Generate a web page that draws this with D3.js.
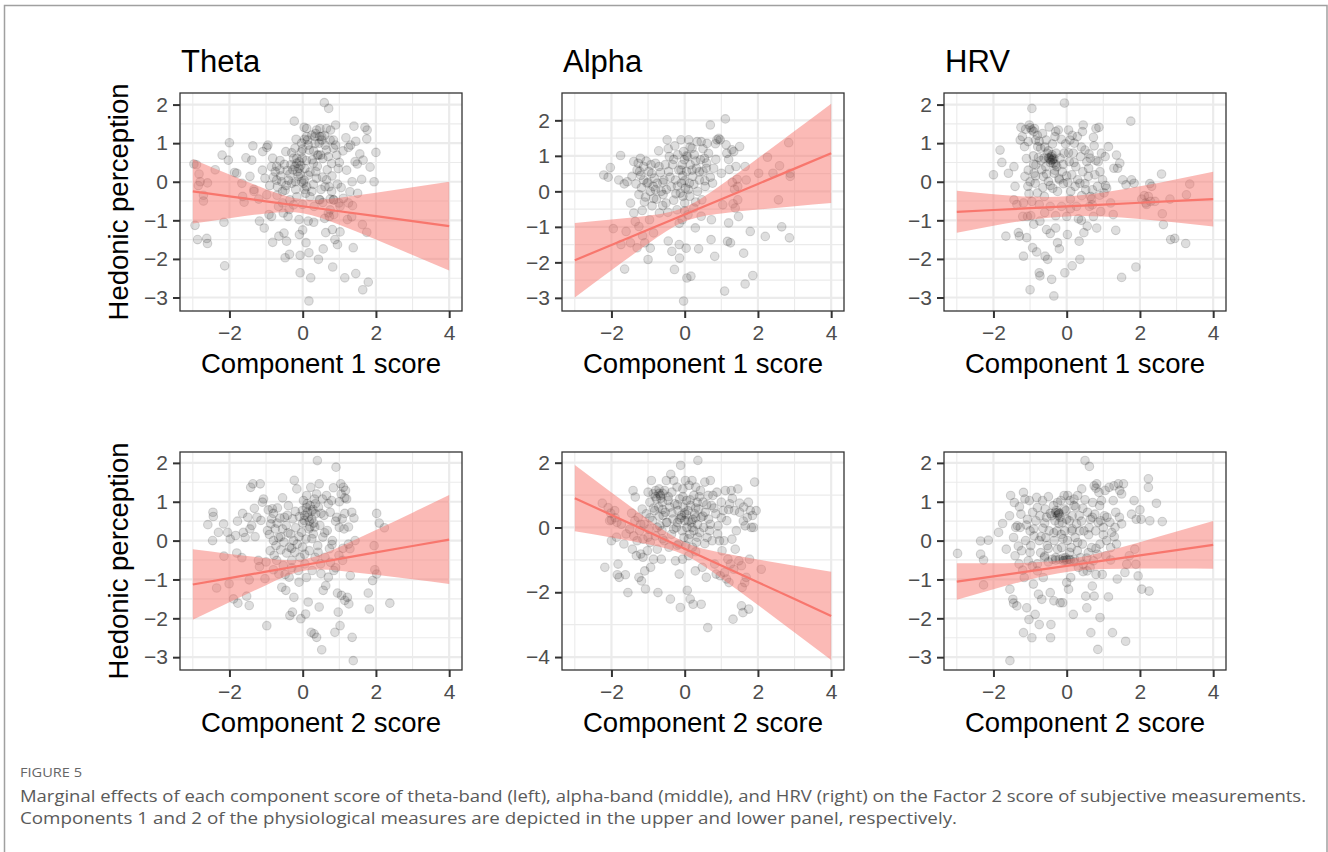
<!DOCTYPE html>
<html>
<head>
<meta charset="utf-8">
<script src="https://cdn.jsdelivr.net/npm/d3@7"></script>
<style>
  body { margin: 0; background: #fff; }
  svg { display: block; }
</style>
</head>
<body>
<div id="viz"></div>
<script>
// ---- data ----
const thetaC1 = [[-2.97,0.46],[-2.9,0.44],[-2.83,0.2],[-2.85,-0.1],[-2.94,-1.13],[-2.87,-1.5],[-2.62,-1.47],[-2.6,-1.6],[-2.71,-0.35],[-2.71,-0.5],[-2.6,-0.03],[-2.8,0],[-2.39,0.31],[-2.2,0.69],[-2.03,0.56],[-2.0,1.01],[-2.15,-1.05],[-2.13,-2.18],[-1.86,0.24],[-1.8,0.22],[-1.64,-0.38],[-1.6,-0.53],[-1.55,0.62],[-1.39,0.56],[-1.36,0.93],[-1.66,-0.04],[-1.44,0.14],[-1.33,-0.2],[-1.33,-0.25],[-1.18,-1.02],[-1.09,0.78],[-1.05,-1.2],[-1.03,0.09],[-0.98,0.89],[-0.95,0.95],[-0.98,-0.34],[-0.92,-0.85],[-0.85,-0.9],[-0.82,-1.57],[-0.85,0.39],[-0.82,0.61],[-0.8,0.12],[-0.75,0.26],[-0.71,0.4],[-0.69,-0.13],[-0.66,-0.64],[-0.65,-1.41],[-0.62,0.55],[-0.57,0],[-0.55,-0.25],[-0.53,-0.81],[-0.51,-1.33],[-0.48,-1.97],[-0.46,0.78],[-0.44,-1.54],[-0.42,0.29],[-0.39,0.04],[-0.37,-0.72],[-0.36,-1.88],[-0.35,-0.47],[-0.32,0.44],[-0.3,-0.04],[-0.27,0.31],[-0.25,0.61],[-0.23,1.57],[-0.21,0.87],[-0.19,-0.2],[-0.18,1.1],[-0.16,0.48],[-0.15,0.26],[-0.12,0.14],[-0.1,-0.98],[-0.09,-1.37],[-0.07,-1.91],[-0.07,-2.36],[-0.05,0.42],[-0.04,0.77],[-0.03,0],[-0.01,0.61],[0,-0.59],[0.02,-0.04],[0.04,1.41],[0.05,1.1],[0.06,0.34],[0.08,-0.3],[0.09,-1.58],[0.11,1.38],[0.13,1.08],[0.15,0.17],[0.15,-1.02],[0.17,-1.84],[0.18,0.82],[0.2,-0.39],[0.22,-2.49],[0.25,1.21],[0.26,0.57],[0.29,-0.07],[0.31,-0.64],[0.34,0.99],[0.36,0.26],[0.38,1.34],[0.4,0.69],[0.43,-2.01],[0.45,-0.46],[0.47,1.17],[0.47,1.38],[0.49,0.69],[0.52,1.08],[0.54,0.12],[0.55,-0.54],[0.56,-1.74],[0.59,2.05],[0.61,0.95],[0.63,-1.32],[0.65,1.38],[0.67,0.31],[0.7,-0.81],[0.71,1.9],[0.72,-0.13],[0.73,-0.9],[0.75,1.08],[0.76,1.34],[0.79,0.47],[0.81,-1.24],[0.82,-2.21],[0.84,0.87],[0.85,-0.47],[0.88,-1.5],[0.9,1.47],[0.93,0.69],[0.95,-0.06],[0.95,-1.63],[0.97,0.34],[0.99,-0.55],[1.02,-1.3],[1.11,-0.43],[1.15,-2.49],[1.18,1.14],[1.22,-0.98],[1.25,0.89],[1.29,-0.26],[1.31,0.95],[1.34,-0.91],[1.35,0],[1.36,-0.62],[1.38,-1.71],[1.4,1.44],[1.43,0.52],[1.45,1.05],[1.45,-2.38],[1.49,0.46],[1.56,0.72],[1.61,0.06],[1.63,-1.11],[1.64,-2.8],[1.65,0.56],[1.7,1.41],[1.75,-1.31],[1.75,1.11],[1.76,1.34],[1.79,-2.6],[1.84,0.38],[1.95,0],[2.0,0.76],[-0.16,0.61],[-0.09,0.52],[-0.21,0.39],[-0.35,0.2],[-0.07,0.2],[0.04,0.04],[0.29,0.48],[0.43,0.69],[0.52,1.17],[0.34,1.17],[0.11,1.17],[-0.03,1.0],[0.38,0.09],[0.65,0.82],[0.84,1.08],[-0.62,0.31],[-0.71,0.04],[-0.48,-0.22],[-0.16,-0.39],[0.11,-0.13],[0.61,-0.13],[0.79,-0.25],[0.84,-0.47],[0.75,-0.73],[0.47,-0.47],[1.02,-0.64],[1.25,-0.55],[0.17,-3.09],[-0.6,0.15],[-0.5,0.45],[-0.45,-0.1],[-0.3,0.75],[-0.2,0.0],[-0.1,0.35],[0.0,0.85],[0.05,-0.2],[0.1,0.55],[0.15,0.95],[0.2,0.25],[0.25,-0.25],[0.3,0.8],[0.35,1.25],[0.4,0.4],[0.45,1.0],[0.5,-0.2],[0.55,0.6],[0.6,1.2],[0.65,0.05],[0.7,0.65],[0.75,-0.45],[0.8,0.15],[0.85,-0.85],[0.9,0.95],[1.0,0.5],[1.05,-0.15],[1.1,0.8],[-0.7,-0.35],[-0.55,-0.55],[-0.9,-0.1],[-1.1,0.3],[-0.4,-0.9],[0.0,-1.25],[0.3,-1.05],[0.6,-0.95],[-0.25,-0.6],[1.2,0.3],[1.5,-0.3],[-1.2,-0.45]];

const alphaC1 = [[-2.21,0.46],[-2.09,0.4],[-2.03,0.67],[-1.95,-1.05],[-1.75,1.01],[-1.8,0.32],[-1.65,0.21],[-1.6,-1.13],[-1.64,-2.19],[-1.57,0.27],[-1.74,-1.5],[-1.48,-0.33],[-1.44,0.42],[-1.39,0.84],[-1.35,-0.85],[-1.33,0.21],[-1.3,-1.59],[-1.27,0.79],[-1.25,-0.09],[-1.23,0.56],[-1.21,0.93],[-1.18,0.1],[-1.16,-0.54],[-1.15,-1.25],[-1.12,0.7],[-1.12,0.32],[-1.09,-1.45],[-1.07,-0.16],[-1.03,0.23],[-1.0,-1.92],[-0.98,0.56],[-0.96,-0.8],[-0.94,0],[-0.92,0.75],[-0.89,-0.41],[-0.86,0.14],[-0.85,-1.17],[-0.83,0.37],[-0.8,0.79],[-0.77,-0.22],[-0.75,0.23],[-0.71,1.14],[-0.69,-0.61],[-0.66,0.53],[-0.64,0],[-0.59,-0.09],[-0.57,0.32],[-0.53,0.75],[-0.51,-0.33],[-0.48,1.45],[-0.46,-0.59],[-0.45,-1.4],[-0.44,0.56],[-0.42,0.98],[-0.37,0.14],[-0.35,-1.69],[-0.33,0.75],[-0.28,-2.2],[-0.27,1.28],[-0.25,0.32],[-0.24,-0.07],[-0.21,-0.52],[-0.19,1.03],[-0.16,0.6],[-0.15,-1.5],[-0.14,-1.88],[-0.12,-0.05],[-0.1,1.45],[-0.09,0.23],[-0.07,0.75],[-0.07,-0.8],[-0.05,-0.14],[-0.05,0.44],[-0.03,1.12],[-0.03,-3.09],[-0.01,0.89],[0,-0.33],[0.02,0.09],[0.04,-1.6],[0.05,0.56],[0.06,-2.44],[0.08,0.98],[0.09,-0.66],[0.11,1.45],[0.13,0.23],[0.14,-0.14],[0.15,0.75],[0.17,-2.39],[0.2,1.21],[0.22,0.42],[0.25,-0.47],[0.26,1.03],[0.29,-1.03],[0.32,0.65],[0.34,1.4],[0.35,0],[0.38,-1.62],[0.4,0.32],[0.43,0.89],[0.45,1.4],[0.47,-0.24],[0.5,0.56],[0.54,0.93],[0.56,0.14],[0.59,0.65],[0.61,1.35],[0.65,1.07],[0.7,1.87],[0.72,-1.36],[0.73,-0.8],[0.76,0.23],[0.79,0.65],[0.82,-1.83],[0.84,1.34],[0.88,1.45],[0.93,1.49],[0.97,1.45],[1.0,0.51],[1.04,-0.38],[1.09,-2.81],[1.11,2.04],[1.13,1.31],[1.15,1.07],[1.17,-1.41],[1.2,-0.89],[1.22,0.62],[1.25,-1.45],[1.29,1.17],[1.32,-0.35],[1.34,1.12],[1.36,0.06],[1.38,-0.47],[1.4,0.7],[1.43,0.34],[1.45,-0.24],[1.45,0.14],[1.47,-0.71],[1.5,1.26],[1.61,-1.74],[1.65,0.7],[1.68,0.32],[1.65,-2.61],[1.79,-1.13],[1.86,-2.37],[2.02,0.51],[2.2,-1.27],[2.26,0.96],[2.41,0.51],[2.56,-0.24],[2.59,0.72],[2.65,-1.0],[2.84,1.37],[2.86,-1.31],[2.88,0.51],[2.88,0.42],[-0.94,-1.6],[-1.39,-0.61],[-1.48,-1.45],[-1.25,-0.99],[-1.2,0.45],[-1.0,0.25],[-0.9,0.5],[-0.8,0.05],[-0.7,0.7],[-0.6,0.25],[-0.5,0.05],[-0.4,0.4],[-0.3,0.9],[-0.2,0.15],[-0.1,0.6],[0.0,0.3],[0.05,1.0],[0.1,0.05],[0.2,0.6],[0.25,0.2],[0.3,0.85],[0.4,0.55],[0.5,1.2],[0.55,0.3],[0.6,0.8],[0.7,0.4],[-1.1,-0.3],[-0.85,-0.2],[-0.6,-0.4],[-0.3,-0.25],[0.0,-0.55],[0.3,-0.3],[-0.45,1.2],[0.15,1.25],[-1.3,0.6],[-1.05,0.85],[0.85,0.9],[1.2,0.9],[1.3,0.25],[-0.15,-0.9],[0.45,-0.7]];

const hrvC1 = [[-2.0,0.18],[-1.82,0.82],[-1.77,0.5],[-1.66,-1.41],[-1.59,0.22],[-1.44,-0.47],[-1.44,0.39],[-1.41,-0.12],[-1.36,-0.59],[-1.32,-1.32],[-1.29,-1.41],[-1.27,1.08],[-1.25,1.41],[-1.21,1.17],[-1.18,-0.55],[-1.18,-1.93],[-1.15,0.91],[-1.14,0.14],[-1.12,1.36],[-1.09,-1.45],[-1.07,-0.9],[-1.06,-0.12],[-1.05,1.04],[-1.03,-0.31],[-1.02,1.47],[-1.0,-2.8],[-0.98,-0.88],[-0.95,-0.51],[-0.95,1.9],[-0.95,1.34],[-0.93,-1.71],[-0.91,0.67],[-0.89,0.22],[-0.88,1.38],[-0.86,-0.04],[-0.85,1.08],[-0.84,0.44],[-0.82,-1.82],[-0.8,-0.29],[-0.79,0.91],[-0.77,0.63],[-0.75,-0.59],[-0.75,-2.36],[-0.73,-1.02],[-0.73,-2.44],[-0.71,0.87],[-0.68,0.31],[-0.66,1.25],[-0.64,0.14],[-0.62,0.61],[-0.61,-0.38],[-0.59,-1.93],[-0.57,0.39],[-0.56,1.08],[-0.55,-1.24],[-0.53,0.74],[-0.52,-2.01],[-0.5,0.01],[-0.48,1.42],[-0.47,0.61],[-0.45,-0.64],[-0.45,-1.34],[-0.44,0.57],[-0.42,0.65],[-0.41,-2.53],[-0.39,0.98],[-0.38,-0.17],[-0.36,0.48],[-0.35,-2.96],[-0.34,0.22],[-0.32,1.17],[-0.3,-0.88],[-0.29,0.74],[-0.27,0.39],[-0.25,-1.58],[-0.25,-0.25],[-0.23,1.34],[-0.21,0.09],[-0.2,-1.74],[-0.18,0.61],[-0.15,1.1],[-0.14,-0.64],[-0.12,0.26],[-0.09,-0.05],[-0.07,0.74],[-0.06,2.04],[-0.05,-2.36],[-0.03,0.98],[0,-0.9],[0.02,-1.37],[0.03,-0.02],[0.05,1.34],[0.07,0.52],[0.09,1.08],[0.11,-0.25],[0.14,0.18],[0.15,-2.18],[0.18,0.74],[0.21,1.0],[0.23,-0.12],[0.25,0.39],[0.27,-0.64],[0.29,1.17],[0.32,-0.96],[0.34,-1.54],[0.36,-2.01],[0.36,-0.04],[0.38,0.65],[0.41,-0.36],[0.43,1.3],[0.44,0.26],[0.45,1.47],[0.47,-1.32],[0.5,0.82],[0.52,-0.21],[0.55,0.52],[0.56,-1.15],[0.59,0.14],[0.61,0.72],[0.62,-0.64],[0.64,0.61],[0.65,-0.38],[0.68,-0.45],[0.7,-0.21],[0.73,1.15],[0.73,-0.9],[0.75,0.93],[0.77,0.18],[0.8,1.38],[0.82,-1.2],[0.84,-0.12],[0.86,0.52],[0.88,1.41],[0.91,0.26],[0.93,-0.77],[0.95,0.74],[0.98,0.05],[1.02,-0.29],[1.05,0.65],[1.06,-0.1],[1.09,-0.17],[1.14,0.91],[1.2,-0.55],[1.27,-0.85],[1.29,0.35],[1.34,-1.26],[1.36,0.69],[1.39,0.35],[1.45,0.48],[1.5,-2.48],[1.53,0.05],[1.62,-0.08],[1.75,1.57],[1.77,0.05],[1.84,-0.04],[1.89,-2.21],[2.05,-0.45],[2.12,-0.36],[2.16,-0.55],[2.18,-0.59],[2.23,-0.38],[2.27,-0.05],[2.29,-0.51],[2.32,-0.12],[2.41,-0.51],[2.59,0.2],[2.61,-0.83],[2.64,-1.11],[2.82,-0.45],[2.84,-1.5],[2.95,-1.47],[3.27,-0.34],[3.25,-1.6],[3.36,-0.06],[-0.4,0.55],[-0.35,0.6],[-0.45,0.5],[-0.3,0.45],[-0.5,0.62],[-1.0,1.4],[-0.9,1.3],[-1.1,0.6],[-1.0,0.0],[-0.9,0.45],[-0.85,0.15],[-0.8,1.2],[-0.7,0.55],[-0.65,-0.15],[-0.6,0.9],[-0.55,0.2],[-0.5,0.8],[-0.45,-0.1],[-0.4,0.7],[-0.38,0.58],[-0.33,0.3],[-0.3,1.3],[-0.2,0.05],[-0.1,0.45],[0.0,0.15],[0.05,0.75],[0.1,-0.45],[0.2,0.5],[0.3,0.05],[0.4,0.9],[0.5,-0.05],[0.6,0.35],[0.7,-0.6],[0.8,0.55],[0.9,-0.35],[-1.2,-0.9],[-0.9,-1.1],[-0.6,-0.8],[-0.3,-1.2],[0.1,-0.7],[0.4,-1.0],[-1.05,0.3],[-0.75,1.05],[0.15,1.2]];

const thetaC2 = [[-2.59,0.41],[-2.45,0.73],[-2.44,0.62],[-2.46,0.0],[-2.35,-1.22],[-2.3,0.21],[-2.16,0.43],[-2.15,-0.4],[-2.05,0.21],[-2.01,-1.11],[-1.98,0.04],[-1.89,-1.5],[-1.83,0.13],[-1.8,-0.32],[-1.77,-1.61],[-1.78,0.5],[-1.66,-0.44],[-1.64,0.7],[-1.62,0.21],[-1.57,0.08],[-1.53,-1.43],[-1.46,-1.67],[-1.46,-1.01],[-1.44,0.3],[-1.42,1.37],[-1.39,0.39],[-1.36,1.46],[-1.32,0.83],[-1.25,0.6],[-1.21,-0.51],[-1.18,-0.67],[-1.16,1.46],[-1.14,0.52],[-1.1,0.99],[-1.07,1.07],[-1.03,-0.98],[-0.98,-2.19],[-0.96,0.26],[-0.94,0.79],[-0.91,0.16],[-0.89,-0.26],[-0.87,0.43],[-0.85,0.56],[-0.83,0.82],[-0.8,0.7],[-0.78,-0.38],[-0.75,0.3],[-0.73,-0.13],[-0.71,-0.51],[-0.69,0.84],[-0.66,0.08],[-0.65,-0.86],[-0.62,0.58],[-0.6,-0.24],[-0.57,-1.2],[-0.55,0.3],[-0.53,-0.64],[-0.51,-0.04],[-0.48,-0.87],[-0.46,-1.28],[-0.45,0.39],[-0.44,-0.32],[-0.42,0.65],[-0.39,0.9],[-0.37,-0.94],[-0.36,-0.17],[-0.35,-1.93],[-0.33,0.17],[-0.3,-0.51],[-0.28,-1.84],[-0.27,0.56],[-0.25,0.0],[-0.24,-1.46],[-0.23,1.55],[-0.21,-0.3],[-0.19,0.33],[-0.16,1.33],[-0.15,-0.09],[-0.12,-0.77],[-0.1,-1.07],[-0.09,0.62],[-0.07,-0.43],[-0.05,-2.01],[-0.03,0.21],[-0.01,0.77],[0,-0.17],[0.02,1.03],[0.04,0.52],[0.06,-0.6],[0.08,-1.89],[0.09,0.04],[0.11,1.16],[0.13,0.73],[0.15,-1.58],[0.17,0.3],[0.18,-0.26],[0.2,0.9],[0.22,1.37],[0.23,-2.36],[0.25,0.56],[0.26,-0.77],[0.29,0.17],[0.31,-2.4],[0.32,1.07],[0.34,-0.43],[0.35,0.69],[0.38,-2.49],[0.4,2.06],[0.41,-0.13],[0.43,0.86],[0.45,1.46],[0.45,-1.71],[0.47,0.39],[0.49,-0.6],[0.52,-2.81],[0.54,1.07],[0.55,0.09],[0.56,-1.28],[0.58,0.65],[0.61,-0.43],[0.63,-1.16],[0.65,1.16],[0.67,0.26],[0.7,-0.94],[0.73,-0.21],[0.75,0.73],[0.76,-0.56],[0.79,1.03],[0.81,0.0],[0.84,1.36],[0.85,-0.77],[0.88,-2.36],[0.91,1.89],[0.93,0.6],[0.95,-1.35],[0.97,-1.84],[0.99,-0.38],[1.0,0.34],[1.02,-2.19],[1.04,1.46],[1.06,-1.41],[1.08,0.56],[1.09,-0.51],[1.11,1.37],[1.13,0.3],[1.15,-1.54],[1.17,1.29],[1.2,1.07],[1.22,-1.46],[1.25,-0.09],[1.26,-1.63],[1.29,-0.21],[1.34,0.73],[1.35,-2.49],[1.38,-3.09],[1.4,0.58],[1.43,0.0],[1.79,-1.35],[1.82,-1.76],[1.91,-1.03],[1.95,-0.13],[1.97,-0.75],[2.02,-0.86],[2.02,0.7],[2.09,0.45],[2.23,0.33],[2.38,-1.61],[0.15,0.6],[0.25,0.75],[0.3,0.45],[0.1,0.85],[0.35,0.95],[0.2,0.35],[0.05,0.65],[1.05,1.2],[1.15,1.1],[-0.8,0.0],[-0.7,0.45],[-0.6,0.1],[-0.5,0.6],[-0.4,0.2],[-0.3,-0.2],[-0.2,0.75],[-0.1,0.1],[0.0,0.45],[0.05,-0.35],[0.12,0.95],[0.18,0.5],[0.25,0.05],[0.28,0.8],[0.33,0.35],[0.38,1.2],[0.42,-0.3],[0.5,0.7],[0.6,0.2],[0.7,0.95],[0.8,-0.1],[0.9,0.5],[1.0,1.0],[1.1,-0.2],[1.15,0.7],[1.25,0.35],[-1.0,-0.55],[-0.8,-0.75],[-0.3,-0.7],[0.1,-0.95],[0.5,-0.85],[0.9,-0.7],[-1.3,0.1],[-1.5,0.6],[1.3,-0.9],[-0.55,1.1]];

const alphaC2 = [[-2.25,0.75],[-2.18,-1.23],[-2.09,0.61],[-2.05,0.21],[-2.02,0.44],[-2.0,-0.41],[-2.0,0.23],[-1.91,0.52],[-1.86,-0.3],[-1.85,0.16],[-1.82,-1.13],[-1.84,-1.46],[-1.79,-1.54],[-1.73,0.1],[-1.62,-1.46],[-1.66,-0.51],[-1.55,-2.01],[-1.5,-0.05],[-1.45,0.44],[-1.43,-0.67],[-1.41,1.14],[-1.39,-0.26],[-1.36,0.21],[-1.35,0.94],[-1.32,-0.87],[-1.3,-0.41],[-1.27,0.31],[-1.25,-1.54],[-1.23,-0.1],[-1.2,-0.82],[-1.18,-1.65],[-1.16,0.57],[-1.14,-0.36],[-1.14,-0.92],[-1.11,0.1],[-1.09,-1.34],[-1.07,-1.9],[-1.05,0.42],[-1.02,-0.72],[-1.0,1.09],[-0.98,-0.05],[-0.95,0.78],[-0.94,-0.46],[-0.93,-1.23],[-0.91,1.45],[-0.88,0.21],[-0.86,1.04],[-0.85,-0.98],[-0.82,0.52],[-0.8,-0.26],[-0.79,1.14],[-0.77,0.88],[-0.75,-0.67],[-0.73,-2.01],[-0.71,0.63],[-0.7,1.19],[-0.68,0.05],[-0.66,0.99],[-0.64,-0.98],[-0.62,-0.1],[-0.61,0.78],[-0.59,0.37],[-0.56,-0.41],[-0.55,1.14],[-0.53,0.47],[-0.5,1.45],[-0.48,0.16],[-0.45,0.83],[-0.43,-0.61],[-0.41,0.63],[-0.39,-2.21],[-0.38,1.64],[-0.36,-0.21],[-0.35,1.09],[-0.32,0.26],[-0.3,1.45],[-0.27,0.73],[-0.25,-1.03],[-0.23,0],[-0.21,1.25],[-0.18,0.52],[-0.16,-0.51],[-0.15,-1.44],[-0.14,0.88],[-0.12,-2.47],[-0.11,1.92],[-0.09,0.37],[-0.07,-0.1],[-0.06,-0.98],[-0.05,1.19],[-0.03,0.63],[-0.02,-0.31],[0,0.21],[0.02,1.45],[0.03,-0.56],[0.05,0.83],[0.06,0],[0.07,-1.94],[0.09,0.52],[0.11,-0.87],[0.12,1.3],[0.14,-0.21],[0.15,-2.21],[0.16,0.68],[0.18,0.16],[0.2,1.45],[0.21,-0.61],[0.23,-2.37],[0.25,0.99],[0.25,-0.1],[0.27,0.42],[0.29,-1.34],[0.3,1.25],[0.32,-0.46],[0.34,0.78],[0.35,0.1],[0.36,2.07],[0.38,0.57],[0.41,-0.16],[0.43,1.14],[0.45,-2.37],[0.45,0.31],[0.48,-1.23],[0.5,0.78],[0.52,0],[0.55,1.4],[0.56,0.47],[0.59,-1.54],[0.61,-0.31],[0.63,-3.09],[0.64,0.99],[0.65,0.26],[0.68,-0.1],[0.7,1.45],[0.73,0.68],[0.75,-0.41],[0.77,0.99],[0.82,-1.13],[0.85,0.42],[0.86,-1.44],[0.88,1.09],[0.91,0.05],[0.95,-0.41],[0.97,-1.49],[1.0,0.78],[1.02,-0.72],[1.05,0.52],[1.07,-0.41],[1.09,-1.39],[1.11,1.14],[1.14,-1.59],[1.15,0.21],[1.18,-0.98],[1.21,-1.7],[1.23,0.73],[1.25,-1.13],[1.27,1.14],[1.29,-0.36],[1.32,-2.83],[1.34,-1.29],[1.36,0.52],[1.38,-0.67],[1.41,-0.1],[1.45,1.19],[1.48,-1.03],[1.5,0.47],[1.55,-2.42],[1.55,-1.18],[1.57,-1.85],[1.59,-2.63],[1.61,0.63],[1.64,-1.7],[1.65,0.05],[1.68,-1.54],[1.71,0.31],[1.74,0.78],[1.75,-2.52],[1.77,-0.98],[1.79,0.52],[1.82,0],[1.85,0.37],[1.88,0],[1.91,1.4],[1.95,0.52],[2.09,-1.29],[-0.1,0.3],[0.0,0.45],[0.1,0.2],[0.2,0.0],[-0.2,0.15],[0.3,0.3],[-0.6,1.05],[-0.65,0.9],[-0.95,0.3],[-0.85,0.6],[-0.75,0.0],[-0.7,0.35],[-0.6,0.55],[-0.5,0.15],[-0.45,0.95],[-0.35,0.45],[-0.3,-0.05],[-0.2,0.7],[-0.15,0.25],[-0.05,0.95],[0.05,0.4],[0.1,-0.35],[0.15,0.85],[0.22,0.25],[0.3,0.6],[0.35,-0.3],[0.4,0.95],[0.5,0.35],[0.6,0.7],[0.7,0.1],[0.8,0.6],[0.9,-0.2],[1.0,0.3],[1.2,0.55],[1.3,0.9],[1.5,0.75],[1.6,0.2],[-1.2,0.1],[-1.0,-0.3],[-0.6,-0.35],[-0.2,-0.55],[0.3,-0.75],[0.55,-0.5],[-0.8,0.95],[-0.7,1.05],[-1.6,-0.2],[-1.9,0.3]];

const hrvC2 = [[-2.98,-0.33],[-2.35,-0.01],[-2.35,-0.35],[-2.27,-0.5],[-2.27,-1.14],[-2.14,0.01],[-1.86,0.21],[-1.75,0.44],[-1.65,-0.22],[-1.56,0.64],[-1.55,-1.25],[-1.53,1.16],[-1.47,-1.51],[-1.45,-1.61],[-1.45,0.08],[-1.43,0.98],[-1.41,-0.39],[-1.39,0.34],[-1.36,-1.68],[-1.35,0.38],[-1.32,-0.14],[-1.29,0.87],[-1.27,0.34],[-1.25,0.68],[-1.23,-0.26],[-1.2,-0.76],[-1.18,-2.37],[-1.18,1.24],[-1.16,-0.95],[-1.14,1.07],[-1.12,0],[-1.09,-1.73],[-1.07,0.55],[-1.05,-0.52],[-1.03,-2.03],[-1.02,1.03],[-1.0,0.25],[-0.98,-0.13],[-0.95,-2.5],[-0.94,-0.65],[-0.93,0.73],[-0.91,-1.12],[-0.89,0.12],[-0.86,-1.9],[-0.84,0.51],[-0.82,1.11],[-0.8,-0.78],[-0.77,-1.38],[-0.75,0],[-0.75,-2.16],[-0.73,0.64],[-0.71,-0.31],[-0.68,-1.51],[-0.66,1.03],[-0.65,0.32],[-0.64,-0.95],[-0.61,-0.44],[-0.59,0.81],[-0.57,0.08],[-0.55,0.6],[-0.53,-0.13],[-0.5,1.13],[-0.48,0.25],[-0.45,-1.34],[-0.44,-2.5],[-0.43,-2.16],[-0.41,0.64],[-0.39,-0.48],[-0.36,0.9],[-0.35,-1.55],[-0.34,0],[-0.32,0.51],[-0.3,-0.44],[-0.29,0.77],[-0.27,0.25],[-0.25,0.98],[-0.25,-0.22],[-0.23,0.73],[-0.21,0.44],[-0.2,-0.48],[-0.18,-1.6],[-0.16,1.03],[-0.15,0.16],[-0.14,-0.18],[-0.12,0.46],[-0.11,-1.6],[-0.09,-0.52],[-0.07,1.16],[-0.06,0.81],[-0.05,0.25],[-0.03,-0.44],[-0.02,0.77],[0,-1.08],[0.02,0],[0.03,1.16],[0.05,-1.25],[0.06,-0.48],[0.07,0.51],[0.09,1.03],[0.11,-0.95],[0.12,-0.18],[0.14,0.25],[0.15,0.64],[0.18,-1.9],[0.2,1.07],[0.21,-0.48],[0.23,0.08],[0.25,0.86],[0.27,0.43],[0.29,-0.26],[0.3,1.16],[0.32,-0.69],[0.34,0.64],[0.36,0.25],[0.38,-0.44],[0.41,1.33],[0.43,-0.09],[0.44,0.83],[0.45,-0.61],[0.47,0.25],[0.5,2.06],[0.52,-1.43],[0.55,-1.73],[0.56,-0.78],[0.57,0.73],[0.59,-0.31],[0.61,0.33],[0.62,1.91],[0.64,-0.69],[0.65,0.55],[0.66,-2.37],[0.68,-0.18],[0.7,-1.17],[0.71,0.98],[0.73,-0.52],[0.75,1.41],[0.75,-1.43],[0.77,0.68],[0.79,0.25],[0.8,-0.87],[0.82,1.46],[0.84,-0.35],[0.85,-2.8],[0.86,0.47],[0.88,1.24],[0.91,-1.98],[0.91,-0.09],[0.93,0.51],[0.95,1.03],[0.97,-0.87],[1.0,0.34],[1.03,0.64],[1.05,1.29],[1.07,-0.39],[1.09,0],[1.14,-1.45],[1.16,1.37],[1.18,0.47],[1.2,-0.18],[1.23,0.21],[1.25,-2.37],[1.27,1.03],[1.29,1.41],[1.32,0.34],[1.34,0.73],[1.36,-0.09],[1.38,-0.99],[1.41,1.46],[1.44,0.6],[1.45,1.29],[1.5,0.43],[1.55,1.46],[1.59,-0.82],[1.61,-2.59],[1.64,-0.61],[1.71,-0.39],[1.77,0.68],[1.84,1.03],[1.86,-0.22],[1.89,-0.61],[1.95,-0.91],[2.0,0.79],[2.03,0.55],[2.05,-1.25],[2.23,1.59],[2.23,1.37],[2.25,-1.3],[2.27,0.51],[2.45,0.96],[2.61,0.49],[-1.55,-3.09],[-0.2,0.7],[-0.25,0.65],[-0.3,0.72],[-0.6,-0.4],[0.0,-0.5],[0.1,-0.5],[-0.1,-0.45],[-1.1,0.4],[-1.0,-0.3],[-0.9,0.3],[-0.8,0.85],[-0.7,0.1],[-0.6,0.45],[-0.5,-0.2],[-0.45,0.7],[-0.35,0.2],[-0.22,0.68],[-0.18,0.6],[-0.1,0.05],[0.0,0.55],[0.08,-0.3],[0.15,0.3],[0.2,0.9],[0.3,-0.05],[0.4,0.5],[0.5,1.05],[0.55,-0.45],[0.6,0.15],[0.7,0.6],[0.8,-0.2],[0.9,0.9],[1.0,0.15],[1.1,0.6],[1.2,-0.5],[1.3,0.1],[-0.5,-0.55],[-0.3,-0.5],[-0.05,-0.5],[0.2,-0.55],[0.45,-0.8],[-1.3,-0.6],[-0.8,-0.6],[0.8,1.35],[1.5,1.2],[1.9,0.55]];

// fitted line and 95% band at each x in bandX
const bandX = [-3, -2, -1, 0, 1, 2, 3, 4];
const thetaC1Fit = [-0.25, -0.379, -0.507, -0.636, -0.764, -0.893, -1.021, -1.15];
const thetaC1Lo = [-1.085, -0.945, -0.821, -0.816, -1.113, -1.499, -1.897, -2.30];
const thetaC1Hi = [0.585, 0.187, -0.193, -0.456, -0.415, -0.287, -0.145, 0.0];
const alphaC1Fit = [-1.94, -1.51, -1.08, -0.65, -0.22, 0.21, 0.64, 1.07];
const alphaC1Lo = [-2.99, -2.224, -1.475, -0.85, -0.623, -0.513, -0.42, -0.33];
const alphaC1Hi = [-0.89, -0.796, -0.685, -0.45, 0.183, 0.933, 1.70, 2.47];
const hrvC1Fit = [-0.78, -0.733, -0.686, -0.639, -0.591, -0.544, -0.497, -0.45];
const hrvC1Lo = [-1.325, -1.142, -0.988, -0.899, -0.903, -0.968, -1.059, -1.16];
const hrvC1Hi = [-0.235, -0.324, -0.384, -0.379, -0.279, -0.12, 0.065, 0.26];
const thetaC2Fit = [-1.13, -0.965, -0.799, -0.634, -0.469, -0.304, -0.139, 0.027];
const thetaC2Lo = [-2.035, -1.586, -1.146, -0.784, -0.774, -0.879, -0.997, -1.118];
const thetaC2Hi = [-0.225, -0.344, -0.452, -0.484, -0.164, 0.271, 0.719, 1.172];
const alphaC2Fit = [0.905, 0.386, -0.133, -0.653, -1.172, -1.691, -2.211, -2.73];
const alphaC2Lo = [-0.115, -0.309, -0.519, -0.853, -1.567, -2.395, -3.241, -4.09];
const alphaC2Hi = [1.925, 1.081, 0.253, -0.453, -0.777, -0.987, -1.181, -1.37];
const hrvC2Fit = [-1.055, -0.92, -0.784, -0.649, -0.514, -0.379, -0.243, -0.108];
const hrvC2Lo = [-1.525, -1.255, -1.001, -0.809, -0.733, -0.717, -0.717, -0.723];
const hrvC2Hi = [-0.585, -0.585, -0.567, -0.489, -0.295, -0.041, 0.231, 0.507];

// ticks
const xTicks = [-2, 0, 2, 4];
const xMinor = [-3, -1, 1, 3];
const yTicks = [-3, -2, -1, 0, 1, 2];
const yMinor = [-2.5, -1.5, -0.5, 0.5, 1.5];
const yTicksWide = [-4, -2, 0, 2];
const yMinorWide = [-3, -1, 1];

const titles = ["Theta", "Alpha", "HRV"];
const xLabels = ["Component 1 score", "Component 2 score"];
const yLabel = "Hedonic perception";

// ---- layout ----
const W = 1328, H = 852;
const colX = [180, 562, 944];
const rowY = [93, 452];
const pw = 282, ph = 218;
const font = "'Liberation Sans', Arial, Helvetica, sans-serif";
const red = "#F8766D";

const panels = [
  {row: 0, col: 0, pts: thetaC1, fit: thetaC1Fit, lo: thetaC1Lo, hi: thetaC1Hi, yDom: [-3.35, 2.3], yt: yTicks, ym: yMinor},
  {row: 0, col: 1, pts: alphaC1, fit: alphaC1Fit, lo: alphaC1Lo, hi: alphaC1Hi, yDom: [-3.37, 2.77], yt: yTicks, ym: yMinor},
  {row: 0, col: 2, pts: hrvC1, fit: hrvC1Fit, lo: hrvC1Lo, hi: hrvC1Hi, yDom: [-3.35, 2.3], yt: yTicks, ym: yMinor},
  {row: 1, col: 0, pts: thetaC2, fit: thetaC2Fit, lo: thetaC2Lo, hi: thetaC2Hi, yDom: [-3.33, 2.28], yt: yTicks, ym: yMinor},
  {row: 1, col: 1, pts: alphaC2, fit: alphaC2Fit, lo: alphaC2Lo, hi: alphaC2Hi, yDom: [-4.4, 2.33], yt: yTicksWide, ym: yMinorWide},
  {row: 1, col: 2, pts: hrvC2, fit: hrvC2Fit, lo: hrvC2Lo, hi: hrvC2Hi, yDom: [-3.33, 2.28], yt: yTicks, ym: yMinor}
];

const svg = d3.select("#viz").append("svg")
  .attr("width", W)
  .attr("height", H)
  .style("font-family", font);

svg.append("rect").attr("width", W).attr("height", H).attr("fill", "#fff");

// outer frame of the figure page
svg.append("rect")
  .attr("x", 4.5).attr("y", 5.5)
  .attr("width", 1322.5).attr("height", 900)
  .attr("fill", "none")
  .attr("stroke", "#a0a0a0")
  .attr("stroke-width", 1.5);

panels.forEach((p, i) => {
  const x0 = colX[p.col], y0 = rowY[p.row];
  const g = svg.append("g").attr("transform", `translate(${x0},${y0})`);

  const x = d3.scaleLinear().domain([-3.35, 4.35]).range([0, pw]);
  const y = d3.scaleLinear().domain(p.yDom).range([ph, 0]);

  g.append("clipPath").attr("id", "clip" + i)
    .append("rect").attr("width", pw).attr("height", ph);

  // grid
  const grid = g.append("g");
  grid.selectAll(".xm").data(xMinor).enter().append("line")
    .attr("x1", d => x(d)).attr("x2", d => x(d)).attr("y1", 0).attr("y2", ph)
    .attr("stroke", "#ebebeb").attr("stroke-width", 1.1);
  grid.selectAll(".ym").data(p.ym).enter().append("line")
    .attr("y1", d => y(d)).attr("y2", d => y(d)).attr("x1", 0).attr("x2", pw)
    .attr("stroke", "#ebebeb").attr("stroke-width", 1.1);
  grid.selectAll(".xM").data(xTicks).enter().append("line")
    .attr("x1", d => x(d)).attr("x2", d => x(d)).attr("y1", 0).attr("y2", ph)
    .attr("stroke", "#ebebeb").attr("stroke-width", 2.2);
  grid.selectAll(".yM").data(p.yt).enter().append("line")
    .attr("y1", d => y(d)).attr("y2", d => y(d)).attr("x1", 0).attr("x2", pw)
    .attr("stroke", "#ebebeb").attr("stroke-width", 2.2);

  const plot = g.append("g").attr("clip-path", `url(#clip${i})`);

  // points
  plot.selectAll("circle").data(p.pts).enter().append("circle")
    .attr("cx", d => x(d[0]))
    .attr("cy", d => y(d[1]))
    .attr("r", 4.3)
    .attr("fill", "#000")
    .attr("fill-opacity", 0.13)
    .attr("stroke", "#000")
    .attr("stroke-opacity", 0.15)
    .attr("stroke-width", 1.1);

  // confidence band + fit
  const rows = bandX.map((bx, k) => ({x: bx, fit: p.fit[k], lo: p.lo[k], hi: p.hi[k]}));
  const area = d3.area()
    .x(d => x(d.x)).y0(d => y(d.lo)).y1(d => y(d.hi))
    .curve(d3.curveNatural);
  plot.append("path").datum(rows)
    .attr("d", area)
    .attr("fill", red)
    .attr("fill-opacity", 0.5);
  const line = d3.line().x(d => x(d.x)).y(d => y(d.fit));
  plot.append("path").datum(rows)
    .attr("d", line)
    .attr("fill", "none")
    .attr("stroke", red)
    .attr("stroke-width", 2.2);

  // panel border
  g.append("rect").attr("width", pw).attr("height", ph)
    .attr("fill", "none").attr("stroke", "#333").attr("stroke-width", 1.3);

  // axes
  const xa = g.append("g").attr("transform", `translate(0,${ph})`)
    .call(d3.axisBottom(x).tickValues(xTicks).tickSize(7).tickPadding(7).tickFormat(d3.format("d")));
  const ya = g.append("g")
    .call(d3.axisLeft(y).tickValues(p.yt).tickSize(7).tickPadding(5).tickFormat(d3.format("d")));
  [xa, ya].forEach(a => {
    a.select(".domain").remove();
    a.selectAll(".tick line").attr("stroke", "#333").attr("stroke-width", 2);
    a.selectAll(".tick text")
      .attr("fill", "#4d4d4d")
      .style("font-size", "21px")
      .style("font-family", font);
  });

  // x axis title
  g.append("text")
    .attr("x", pw / 2).attr("y", ph + 62)
    .attr("text-anchor", "middle")
    .style("font-size", "27.5px")
    .attr("fill", "#000")
    .text(xLabels[p.row]);

  if (p.row === 0) {
    g.append("text")
      .attr("x", 1).attr("y", -21)
      .style("font-size", "31px")
      .attr("fill", "#000")
      .text(titles[p.col]);
  }
  if (p.col === 0) {
    g.append("text")
      .attr("transform", `translate(-52,${ph / 2}) rotate(-90)`)
      .attr("text-anchor", "middle")
      .style("font-size", "27.5px")
      .attr("fill", "#000")
      .text(yLabel);
  }
});

// caption
const capFont = "'Open Sans', 'Noto Sans', sans-serif";
svg.append("text")
  .attr("x", 20).attr("y", 777)
  .style("font-family", capFont)
  .style("font-size", "12.5px")
  .attr("fill", "#666")
  .attr("textLength", 62)
  .attr("lengthAdjust", "spacingAndGlyphs")
  .text("FIGURE 5");
svg.append("text")
  .attr("x", 20).attr("y", 802)
  .style("font-family", capFont)
  .style("font-size", "16.5px")
  .attr("fill", "#5a5a5a")
  .attr("textLength", 1286)
  .attr("lengthAdjust", "spacingAndGlyphs")
  .text("Marginal effects of each component score of theta-band (left), alpha-band (middle), and HRV (right) on the Factor 2 score of subjective measurements.");
svg.append("text")
  .attr("x", 20).attr("y", 824)
  .style("font-family", capFont)
  .style("font-size", "16.5px")
  .attr("fill", "#5a5a5a")
  .attr("textLength", 937)
  .attr("lengthAdjust", "spacingAndGlyphs")
  .text("Components 1 and 2 of the physiological measures are depicted in the upper and lower panel, respectively.");
</script>
</body>
</html>
